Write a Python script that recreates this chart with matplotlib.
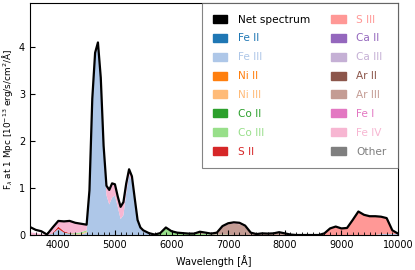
import matplotlib
matplotlib.use("Agg")
import matplotlib.pyplot as plt
from matplotlib.patches import Patch
from matplotlib.ticker import MultipleLocator

wavelength = [3500, 3600, 3700, 3800, 3900, 4000, 4100, 4200, 4300, 4400, 4500,
              4550, 4600, 4650, 4700, 4750, 4800, 4850, 4900, 4950, 5000,
              5050, 5100, 5150, 5200, 5250, 5300, 5350, 5400, 5450, 5500,
              5600, 5700, 5800, 5900, 6000, 6100, 6200, 6300, 6400, 6500,
              6600, 6700, 6800, 6900, 7000, 7100, 7200, 7300, 7400, 7500,
              7600, 7700, 7800, 7900, 8000, 8100, 8200, 8300, 8400, 8500,
              8600, 8700, 8800, 8900, 9000, 9100, 9200, 9300, 9400, 9500,
              9600, 9700, 9800, 9900, 10000]

net_spectrum = [0.17, 0.11, 0.08, 0.01, 0.16, 0.30, 0.29, 0.30, 0.26, 0.24, 0.22,
                0.95, 2.90, 3.88, 4.10, 3.35, 1.90, 1.05, 0.96, 1.10, 1.08,
                0.82, 0.60, 0.70, 1.10, 1.40, 1.25, 0.78, 0.32, 0.16, 0.10,
                0.04, 0.01, 0.04, 0.16, 0.08, 0.05, 0.04, 0.03, 0.03, 0.07,
                0.05, 0.03, 0.05, 0.19, 0.25, 0.27, 0.26, 0.20, 0.05, 0.02,
                0.035, 0.03, 0.035, 0.06, 0.035, 0.01, 0.0, 0.0, 0.0, 0.0,
                0.0, 0.035, 0.14, 0.18, 0.14, 0.15, 0.32, 0.50, 0.43, 0.40,
                0.40, 0.39, 0.36, 0.10, 0.03]

fe3 = [0, 0, 0, 0, 0.03, 0.13, 0.05, 0.02, 0.01, 0.01, 0.05,
       0.85, 2.85, 3.83, 4.05, 3.30, 1.80, 0.85, 0.65, 0.80, 0.84,
       0.60, 0.34, 0.42, 0.90, 1.28, 1.15, 0.70, 0.28, 0.13, 0.08,
       0.02, 0, 0, 0, 0, 0, 0, 0, 0, 0,
       0, 0, 0, 0, 0, 0, 0, 0, 0, 0,
       0, 0, 0, 0, 0, 0, 0, 0, 0, 0,
       0, 0, 0, 0, 0, 0, 0, 0, 0, 0,
       0, 0.02, 0.02, 0.02, 0.02]

ni3 = [0, 0, 0, 0, 0, 0, 0, 0, 0.01, 0.02, 0.02] + [0] * 65

co3 = [0, 0, 0, 0, 0, 0, 0, 0.01, 0.02, 0.03, 0.03,
       0, 0, 0, 0, 0, 0, 0, 0, 0, 0,
       0, 0, 0, 0, 0, 0, 0, 0, 0, 0,
       0, 0, 0.03, 0.14, 0.06, 0.04, 0.03, 0.02, 0.02, 0.04,
       0.02, 0.01, 0.01, 0.01, 0.01, 0, 0, 0, 0, 0,
       0, 0, 0, 0, 0, 0, 0, 0, 0, 0,
       0, 0, 0, 0, 0, 0, 0, 0, 0, 0,
       0, 0, 0, 0, 0]

s2 = [0, 0, 0, 0, 0.01, 0.05, 0.03, 0.01, 0, 0, 0,
      0, 0, 0, 0, 0, 0, 0, 0, 0, 0,
      0, 0, 0, 0, 0, 0, 0, 0, 0, 0,
      0, 0, 0, 0, 0, 0, 0, 0, 0, 0.01,
      0, 0, 0, 0, 0, 0, 0, 0, 0, 0,
      0, 0, 0, 0, 0, 0, 0, 0, 0, 0,
      0, 0, 0, 0, 0, 0, 0, 0, 0, 0,
      0, 0, 0, 0, 0]

s3 = [0] * 62 + [0.03, 0.13, 0.17, 0.13, 0.14, 0.31, 0.49, 0.42, 0.39,
                 0.39, 0.36, 0.33, 0.07, 0.01]

ar3 = [0] * 43 + [0.03, 0.16, 0.22, 0.24, 0.23, 0.18, 0.04, 0.02,
                  0.03, 0.02, 0.03, 0.05, 0.03, 0.01] + [0] * 19

fe4 = [0.06, 0.04, 0.02, 0, 0.11, 0.12, 0.20, 0.26, 0.22, 0.18, 0.12,
       0.08, 0.04, 0.04, 0.04, 0.04, 0.08, 0.18, 0.30, 0.28, 0.22,
       0.20, 0.26, 0.26, 0.18, 0.10, 0.08, 0.06, 0.03, 0.02, 0.01,
       0, 0, 0, 0, 0, 0, 0, 0, 0, 0.01,
       0, 0, 0, 0.02, 0.02, 0.02, 0.02, 0.01, 0, 0,
       0, 0, 0, 0, 0, 0, 0, 0, 0, 0,
       0, 0, 0, 0, 0, 0, 0, 0, 0, 0,
       0, 0, 0, 0, 0]

zeros = [0] * len(wavelength)

species = ["Fe II", "Fe III", "Ni II", "Ni III", "Co II", "Co III", "S II",
           "S III", "Ca II", "Ca III", "Ar II", "Ar III", "Fe I", "Fe IV", "Other"]
contributions = [zeros, fe3, zeros, ni3, zeros, co3, s2,
                 s3, zeros, zeros, zeros, ar3, zeros, fe4, zeros]
colors = ["#1f77b4", "#aec7e8", "#ff7f0e", "#ffbb78", "#2ca02c", "#98df8a",
          "#d62728", "#ff9896", "#9467bd", "#c5b0d5", "#8c564b", "#c49c94",
          "#e377c2", "#f7b6d2", "#7f7f7f"]

fig = plt.figure(figsize=(4.15, 2.7), dpi=100)
ax = fig.add_axes([0.0723, 0.1296, 0.8867, 0.8593])

ax.stackplot(wavelength, *contributions, colors=colors, linewidth=0)
ax.plot(wavelength, net_spectrum, color="black", lw=1.6)

ax.set_xlim(3500, 10000)
ax.set_ylim(0, 4.94)
ax.xaxis.set_minor_locator(MultipleLocator(100))
ax.tick_params(which="both", direction="in", labelsize=7)
ax.tick_params(which="major", length=3.5)
ax.tick_params(which="minor", length=2)
ax.set_xlabel("Wavelength [Å]", fontsize=7)
ax.set_ylabel(r"F$_\lambda$ at 1 Mpc [10$^{-13}$ erg/s/cm$^2$/Å]", fontsize=6.4, labelpad=3)

handles = [Patch(color="black")] + [Patch(color=c) for c in colors]
labels = ["Net spectrum"] + species
leg = ax.legend(handles, labels, ncol=2, loc="upper right", fontsize=7.6,
                fancybox=False, borderaxespad=0, labelspacing=0.84,
                handlelength=1.35, handleheight=0.8, handletextpad=1.0,
                columnspacing=2.0, borderpad=1.1)
leg.get_frame().set_edgecolor("0.4")
leg.get_frame().set_linewidth(0.8)
for txt, c in zip(leg.get_texts(), ["black"] + colors):
    txt.set_color(c)

fig.savefig("out.png", dpi=100)
